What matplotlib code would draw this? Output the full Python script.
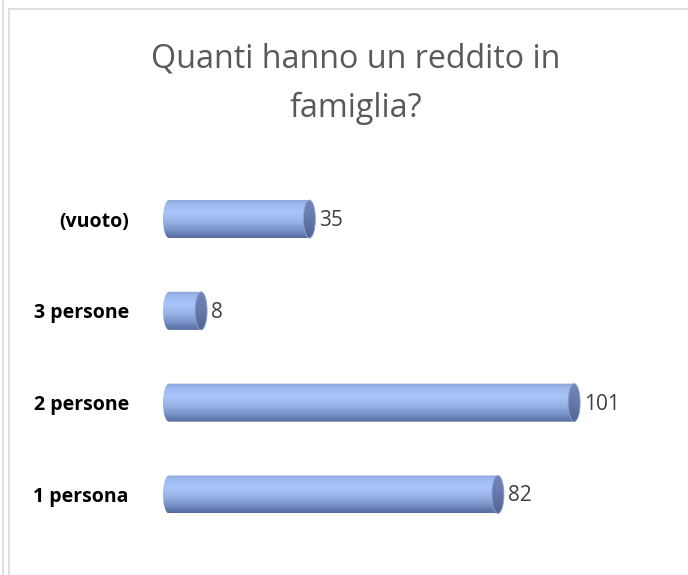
import numpy as np
import matplotlib
matplotlib.use("Agg")
import matplotlib.pyplot as plt
from matplotlib.path import Path
from matplotlib.patches import PathPatch, Ellipse
from matplotlib.lines import Line2D
from matplotlib.colors import to_rgb

# ---- data ----
categories = ["1 persona", "2 persone", "3 persone", "(vuoto)"]
values = [82, 101, 8, 35]
title = "Quanti hanno un reddito in\nfamiglia?"

W, H = 688, 575
fig = plt.figure(figsize=(W / 100, H / 100), dpi=100)
fig.patch.set_facecolor("white")

# axes placement (pixels); zero of the value axis at x=169, left cap reaches 163
ax_left, ax_right = 163, 650
zero_px = 169
ax_bottom, ax_top = 540.4, 173.1
px_per_unit = 4.011
xmin = -(zero_px - ax_left) / px_per_unit
xmax = xmin + (ax_right - ax_left) / px_per_unit

ax = fig.add_axes([ax_left / W, 1 - ax_bottom / H, (ax_right - ax_left) / W, (ax_bottom - ax_top) / H])
for s in ax.spines.values():
    s.set_visible(False)
ax.tick_params(left=False, bottom=False, labelbottom=False)
ax.set_yticks(range(len(categories)))
ax.set_yticklabels(categories, fontsize=14, fontweight="bold", color="black", family="Open Sans")
ax.tick_params(axis="y", pad=21)

bar_h = 0.414
bars = ax.barh(range(len(categories)), values, height=bar_h, color="none", edgecolor="none")

w = 6.0 / px_per_unit  # half-width of elliptical ends in data units

# vertical gradient for cylinder body (top -> bottom)
stops = [(0.0, "#8aa2d6"), (0.12, "#9fbaf0"), (0.35, "#a9c4f8"), (0.6, "#96b1e6"), (0.85, "#7189c0"), (1.0, "#566a9c")]
N = 64
tt = np.linspace(0, 1, N)
grad = np.zeros((N, 1, 3))
for c in range(3):
    grad[:, 0, c] = np.interp(tt, [s[0] for s in stops], [to_rgb(s[1])[c] for s in stops])

cap_stops = [(0.0, "#7387b8"), (0.5, "#6679ab"), (1.0, "#526493")]
cap_grad = np.zeros((N, 1, 3))
for c in range(3):
    cap_grad[:, 0, c] = np.interp(tt, [s[0] for s in cap_stops], [to_rgb(s[1])[c] for s in cap_stops])

for rect, v in zip(bars, values):
    y0 = rect.get_y()
    hh = rect.get_height() / 2
    yc = y0 + hh
    t1 = np.linspace(np.pi / 2, 3 * np.pi / 2, 40)
    t2 = np.linspace(-np.pi / 2, np.pi / 2, 40)
    xs = np.concatenate([w * np.cos(t1), v + w * np.cos(t2)])
    ys = np.concatenate([yc + hh * np.sin(t1), yc + hh * np.sin(t2)])
    verts = np.column_stack([xs, ys])
    verts = np.vstack([verts, verts[:1]])
    codes = [Path.MOVETO] + [Path.LINETO] * (len(verts) - 2) + [Path.CLOSEPOLY]
    body = PathPatch(Path(verts, codes), facecolor="none", edgecolor="none", transform=ax.transData)
    ax.add_patch(body)
    im = ax.imshow(grad, extent=[-w, v + w, yc - hh, yc + hh], aspect="auto", origin="upper",
                   interpolation="bilinear", zorder=2)
    im.set_clip_path(body)
    # end cap
    cap = Ellipse((v, yc), 2 * w, 2 * hh, facecolor="none", edgecolor="none", transform=ax.transData)
    ax.add_patch(cap)
    im2 = ax.imshow(cap_grad, extent=[v - w, v + w, yc - hh, yc + hh], aspect="auto", origin="upper",
                    interpolation="bilinear", zorder=3)
    im2.set_clip_path(cap)
    rim = Ellipse((v, yc), 2 * w, 2 * hh, facecolor="none", edgecolor="#8ea3d3", linewidth=0.6, zorder=4)
    ax.add_patch(rim)
    ax.annotate(str(v), xy=(v, yc), xytext=(7, -1), textcoords="offset points", va="center", ha="left",
                fontsize=15, color="#404040", family="Open Sans", zorder=5)

ax.set_xlim(xmin, xmax)
ax.set_ylim(-0.5, len(categories) - 0.5)

fig.text(356 / W, 1 - 84 / H, title, ha="center", va="center", fontsize=23.2, color="#595959",
         family="Open Sans", linespacing=1.65)

# outer frame lines
fig.add_artist(Line2D([2.5 / W, 2.5 / W], [0, 1], transform=fig.transFigure, color="#d9d9d9", lw=1.2))
fig.add_artist(Line2D([8.5 / W, 8.5 / W], [0, 1 - 8.5 / H], transform=fig.transFigure, color="#d9d9d9", lw=1.2))
fig.add_artist(Line2D([8.5 / W, 1], [1 - 8.5 / H, 1 - 8.5 / H], transform=fig.transFigure, color="#d9d9d9", lw=1.2))

fig.savefig("out.png", dpi=100)
